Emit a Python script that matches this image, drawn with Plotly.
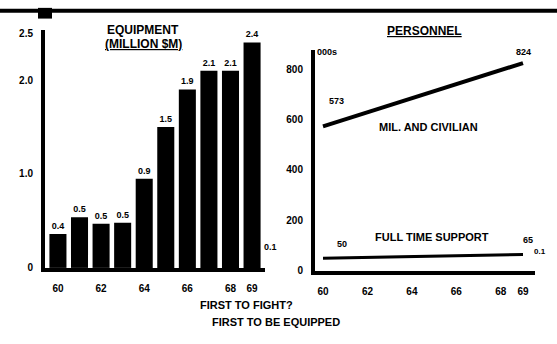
import plotly.graph_objects as go

# ---- data ----
years = [60, 61, 62, 63, 64, 65, 66, 67, 68, 69]
equipment = [0.36, 0.54, 0.47, 0.48, 0.95, 1.50, 1.90, 2.10, 2.10, 2.40]
equipment_labels = ["0.4", "0.5", "0.5", "0.5", "0.9", "1.5", "1.9", "2.1", "2.1", "2.4"]
tick_years = [60, 62, 64, 66, 68, 69]
tick_year_text = ["60", "62", "64", "66", "68", "69"]

pers_years = [60, 69]
mil_civ = [573, 824]
full_time = [50, 65]

left_yticks = [0, 1.0, 2.0, 2.5]
left_ytext = ["0", "1.0", "2.0", "2.5"]
right_yticks = [0, 200, 400, 600, 800]
right_ytext = ["0", "200", "400", "600", "800"]

W, H = 557, 344
def px(x): return x / W
def py(y): return 1 - y / H

FONT = "Liberation Sans"
ink = "black"

fig = go.Figure()

fig.add_trace(go.Bar(
    x=years, y=equipment, marker=dict(color=ink, line=dict(width=0)), width=0.79,
    text=equipment_labels, textposition="outside", cliponaxis=False,
    textfont=dict(family=FONT, size=9, color=ink, weight="bold"),
    xaxis="x", yaxis="y", showlegend=False, hoverinfo="skip",
))

fig.add_trace(go.Scatter(
    x=pers_years, y=mil_civ, mode="lines", line=dict(color=ink, width=4),
    xaxis="x2", yaxis="y2", showlegend=False, hoverinfo="skip",
))
fig.add_trace(go.Scatter(
    x=pers_years, y=full_time, mode="lines", line=dict(color=ink, width=3),
    xaxis="x2", yaxis="y2", showlegend=False, hoverinfo="skip",
))

axfont = dict(family=FONT, size=10, color=ink, weight="bold")
common = dict(showgrid=False, zeroline=False, showline=True, linecolor=ink,
              linewidth=4, ticks="", tickfont=axfont)

fig.update_layout(
    width=W, height=H, margin=dict(l=0, r=0, t=0, b=0),
    paper_bgcolor="white", plot_bgcolor="white",
    xaxis=dict(domain=[px(45), px(265)], range=[59.4, 69.6], anchor="y",
               tickvals=tick_years, ticktext=tick_year_text, ticklabelstandoff=8, **common),
    yaxis=dict(domain=[py(272), py(28)], range=[0, 2.53], anchor="x",
               tickvals=left_yticks, ticktext=left_ytext, ticklabelstandoff=6, **common),
    xaxis2=dict(domain=[px(315), px(535)], range=[59.64, 69.54], anchor="y2",
                tickvals=tick_years, ticktext=tick_year_text, ticklabelstandoff=8, **common),
    yaxis2=dict(domain=[py(275), py(48)], range=[0, 877], anchor="x2",
                tickvals=right_yticks, ticktext=right_ytext, ticklabelstandoff=6, **common),
)

def note(x, y, text, size=9, xanchor="center"):
    fig.add_annotation(x=px(x), y=py(y), xref="paper", yref="paper", text=text,
                       showarrow=False, xanchor=xanchor, yanchor="middle",
                       font=dict(family=FONT, size=size, color=ink, weight="bold"))

# titles
note(143, 28, "EQUIPMENT", 12)
note(143, 42, "<u>(MILLION $M)</u>", 12)
note(424, 29, "<u>PERSONNEL</u>", 12)
note(327, 50, "000s", 9)

# series labels
note(336, 101, str(mil_civ[0]))
note(523, 50, str(mil_civ[1]))
note(428, 127, "MIL. AND CIVILIAN", 11)
note(432, 240, "FULL TIME SUPPORT", 11)
note(342, 247, str(full_time[0]))
note(528, 243, str(full_time[1]))
note(540, 255, "0.1", 8)
note(270, 251, "0.1")

# bottom captions
note(246, 310, "FIRST TO FIGHT?", 11)
note(276, 328, "FIRST TO BE EQUIPPED", 11)

# top rule and tab
fig.add_shape(type="line", xref="paper", yref="paper", x0=0, x1=1, y0=py(8), y1=py(8),
              line=dict(color=ink, width=4))
fig.add_shape(type="rect", xref="paper", yref="paper", x0=px(38), x1=px(52), y0=py(16), y1=py(5),
              fillcolor=ink, line=dict(width=0))

fig.write_html("out.html", config={"displayModeBar": False, "staticPlot": True},
               post_script="document.body.style.margin='0';document.body.style.overflow='hidden';")
